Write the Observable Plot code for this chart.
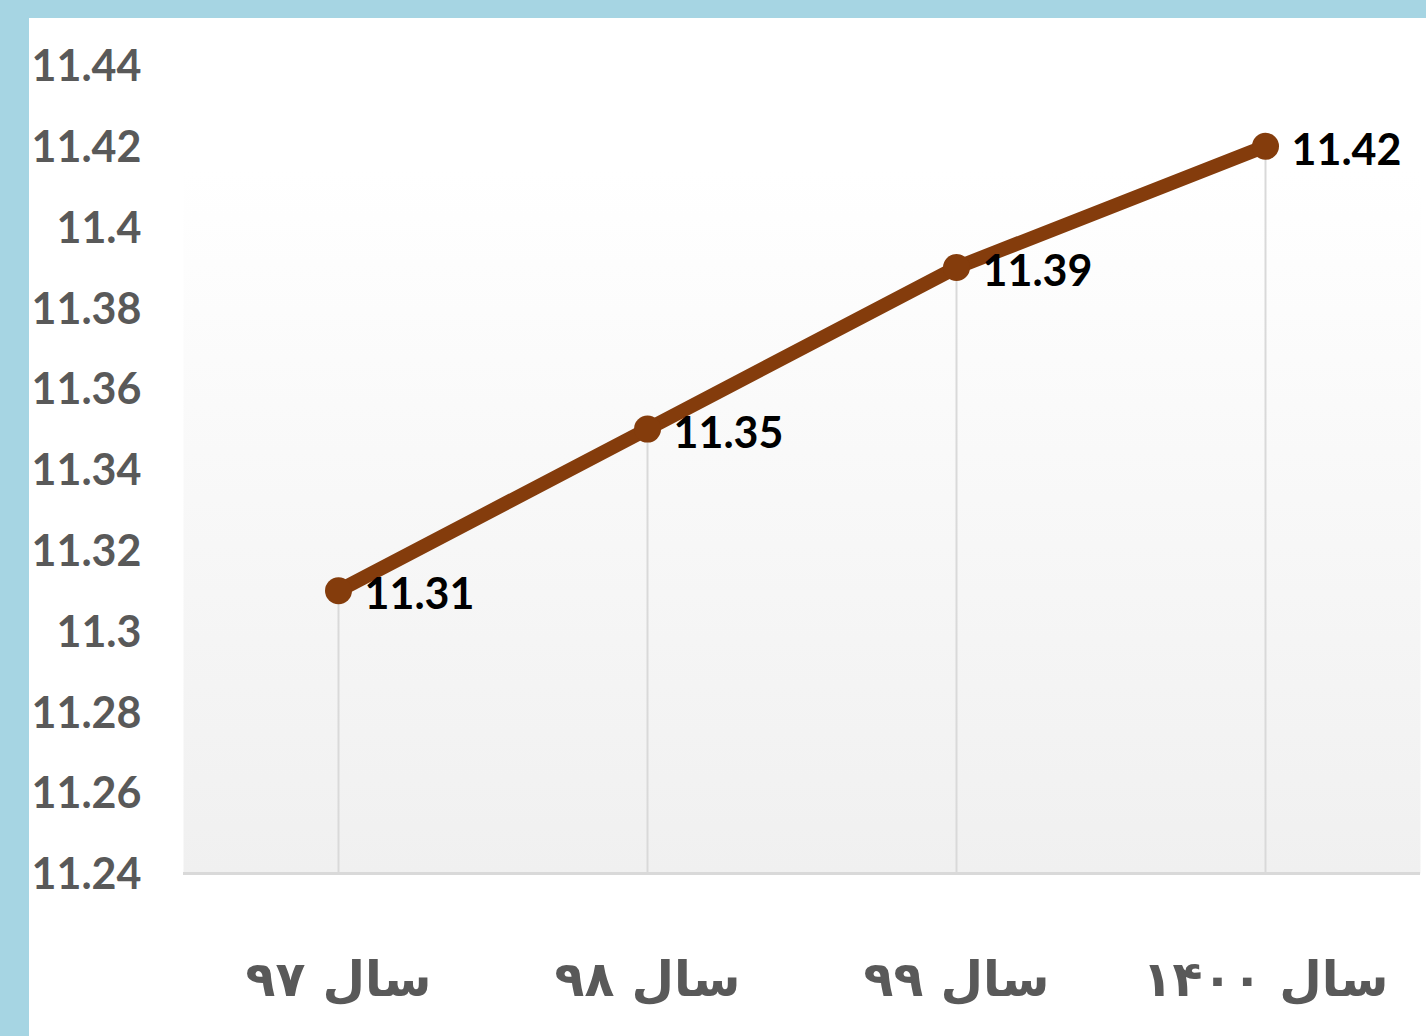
<!DOCTYPE html>
<html>
<head>
<meta charset="utf-8">
<script src="https://cdn.jsdelivr.net/npm/d3@7"></script>
<script src="https://cdn.jsdelivr.net/npm/@observablehq/plot@0.6"></script>
<style>
  html, body { margin: 0; padding: 0; background: #a6d5e3; }
  #frame { position: absolute; left: 29px; top: 18px; width: 1397px; height: 1018px; background: #ffffff; }
  #chart svg { display: block; }
</style>
</head>
<body>
<div id="frame"><div id="chart"></div></div>
<script>
const categories = ["سال ۹۷", "سال ۹۸", "سال ۹۹", "سال ۱۴۰۰"];
const values = [11.31, 11.35, 11.39, 11.42];
const labels = ["11.31", "11.35", "11.39", "11.42"];
const yTicks = [11.24, 11.26, 11.28, 11.3, 11.32, 11.34, 11.36, 11.38, 11.4, 11.42, 11.44];

const data = categories.map((c, i) => ({cat: c, value: values[i], label: labels[i]}));
const yMin = yTicks[0];
const yMax = yTicks[yTicks.length - 1];
const lineColor = "#843c0c";

const plot = Plot.plot({
  width: 1397,
  height: 1018,
  marginTop: 47,
  marginBottom: 163,
  marginLeft: 154,
  marginRight: 6,
  style: {background: "transparent", overflow: "visible"},
  x: {type: "point", domain: categories, padding: 0.5, label: null},
  y: {domain: [yMin, yMax], label: null},
  marks: [
    Plot.frame({fill: "url(#bggrad)", stroke: "none"}),
    Plot.ruleX(data, {x: "cat", y1: "value", y2: () => yMin, stroke: "#d9d9d9", strokeWidth: 2}),
    Plot.ruleY([yMin], {stroke: "#d9d9d9", strokeWidth: 3}),
    Plot.axisY({ticks: yTicks, tickSize: 0, tickPadding: 42, dy: 2, tickFormat: d => String(d),
      fontSize: 43, fontWeight: "bold", fontFamily: "Lato", fill: "#595959"}),
    Plot.axisX({tickSize: 0, tickPadding: 88, fontSize: 49, fontWeight: "bold",
      fontFamily: "DejaVu Sans", fill: "#595959"}),
    Plot.line(data, {x: "cat", y: "value", stroke: lineColor, strokeWidth: 14, strokeLinecap: "round", strokeLinejoin: "round"}),
    Plot.dot(data, {x: "cat", y: "value", r: 13.5, fill: lineColor, stroke: "none"}),
    Plot.text(data, {x: "cat", y: "value", text: "label", textAnchor: "start", dx: 26, dy: 5,
      fontSize: 43, fontWeight: "bold", fontFamily: "Lato", fill: "#000000"})
  ]
});

const svg = d3.select(plot);
const defs = svg.insert("defs", ":first-child");
const g = defs.append("linearGradient").attr("id", "bggrad").attr("x1", 0).attr("y1", 0).attr("x2", 0).attr("y2", 1);
g.append("stop").attr("offset", "0").attr("stop-color", "#ffffff");
g.append("stop").attr("offset", "0.13").attr("stop-color", "#ffffff");
g.append("stop").attr("offset", "1").attr("stop-color", "#f0f0f0");

document.getElementById("chart").appendChild(plot);
</script>
</body>
</html>
